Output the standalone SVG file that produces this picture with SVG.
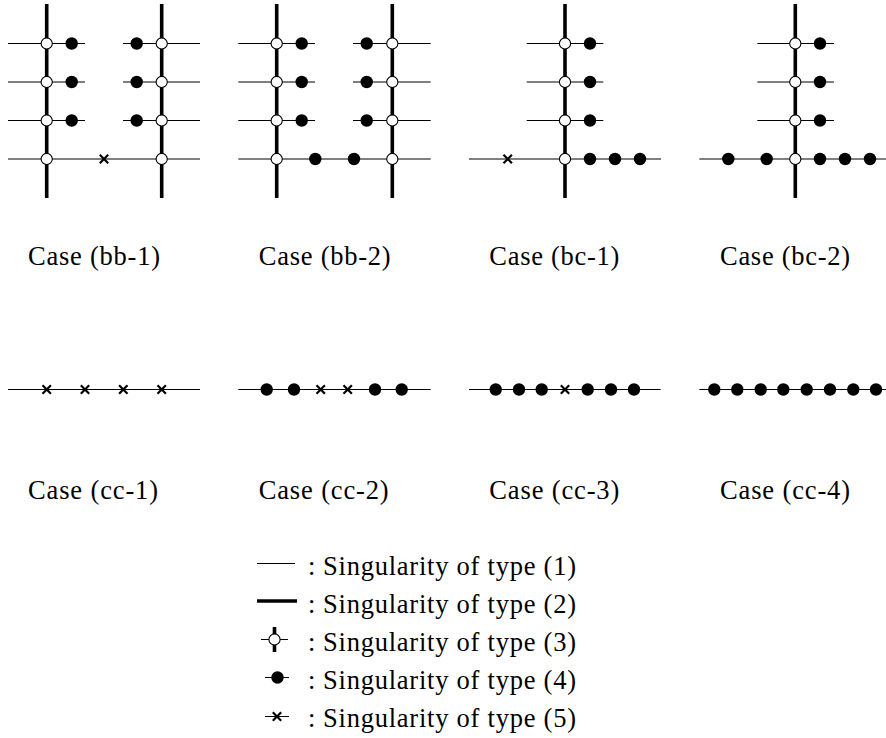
<svg xmlns="http://www.w3.org/2000/svg" xmlns:xlink="http://www.w3.org/1999/xlink" width="886" height="738" viewBox="0 0 886 738">
<style>
.thin{stroke:#000;stroke-width:1;fill:none}
.thick{stroke:#000;stroke-width:3.6;fill:none}
text{font-size:26.5px;fill:#000}
</style>
<defs>
<circle id="o" r="5.6" fill="#fff" stroke="#000" stroke-width="1.1"/>
<circle id="d" r="6.2" fill="#000"/>
<path id="x" d="M-4.2,-4.2L4.2,4.2M-4.2,4.2L4.2,-4.2" stroke="#000" stroke-width="2.2" fill="none"/>
</defs>

<g id="case-bb-1">
<g class="connectors">
<path class="thin" d="M8,43.5H85M8,82H85M8,120.5H85M123,43.5H200M123,82H200M123,120.5H200M8,159H200"/>
<path class="thick" d="M46.7,4V198M161.7,4V198"/>
</g>
<use xlink:href="#o" x="46.7" y="43.5"/><use xlink:href="#o" x="46.7" y="82"/><use xlink:href="#o" x="46.7" y="120.5"/><use xlink:href="#o" x="46.7" y="159"/>
<use xlink:href="#o" x="161.7" y="43.5"/><use xlink:href="#o" x="161.7" y="82"/><use xlink:href="#o" x="161.7" y="120.5"/><use xlink:href="#o" x="161.7" y="159"/>
<use xlink:href="#d" x="71.7" y="43.5"/><use xlink:href="#d" x="71.7" y="82"/><use xlink:href="#d" x="71.7" y="120.5"/>
<use xlink:href="#d" x="136.7" y="43.5"/><use xlink:href="#d" x="136.7" y="82"/><use xlink:href="#d" x="136.7" y="120.5"/>
<use xlink:href="#x" x="104" y="159"/>
<text font-family="'Liberation Serif', 'Times New Roman', serif" x="28" y="265" textLength="132" lengthAdjust="spacing">Case (bb-1)</text>
</g>

<g id="case-bb-2">
<g class="connectors">
<path class="thin" d="M238.3,43.5H315M238.3,82H315M238.3,120.5H315M353,43.5H430.7M353,82H430.7M353,120.5H430.7M238.3,159H430.7"/>
<path class="thick" d="M276.7,4V198M392.3,4V198"/>
</g>
<use xlink:href="#o" x="276.7" y="43.5"/><use xlink:href="#o" x="276.7" y="82"/><use xlink:href="#o" x="276.7" y="120.5"/><use xlink:href="#o" x="276.7" y="159"/>
<use xlink:href="#o" x="392.3" y="43.5"/><use xlink:href="#o" x="392.3" y="82"/><use xlink:href="#o" x="392.3" y="120.5"/><use xlink:href="#o" x="392.3" y="159"/>
<use xlink:href="#d" x="301.7" y="43.5"/><use xlink:href="#d" x="301.7" y="82"/><use xlink:href="#d" x="301.7" y="120.5"/>
<use xlink:href="#d" x="366.7" y="43.5"/><use xlink:href="#d" x="366.7" y="82"/><use xlink:href="#d" x="366.7" y="120.5"/>
<use xlink:href="#d" x="315.3" y="159"/><use xlink:href="#d" x="354" y="159"/>
<text font-family="'Liberation Serif', 'Times New Roman', serif" x="258.7" y="265" textLength="132" lengthAdjust="spacing">Case (bb-2)</text>
</g>

<g id="case-bc-1">
<g class="connectors">
<path class="thin" d="M526.7,43.5H603.3M526.7,82H603.3M526.7,120.5H603.3M469,159H661"/>
<path class="thick" d="M565,4V198"/>
</g>
<use xlink:href="#o" x="565" y="43.5"/><use xlink:href="#o" x="565" y="82"/><use xlink:href="#o" x="565" y="120.5"/><use xlink:href="#o" x="565" y="159"/>
<use xlink:href="#d" x="590" y="43.5"/><use xlink:href="#d" x="590" y="82"/><use xlink:href="#d" x="590" y="120.5"/>
<use xlink:href="#d" x="590" y="159"/><use xlink:href="#d" x="615" y="159"/><use xlink:href="#d" x="640" y="159"/>
<use xlink:href="#x" x="507.7" y="159"/>
<text font-family="'Liberation Serif', 'Times New Roman', serif" x="489.3" y="265" textLength="130" lengthAdjust="spacing">Case (bc-1)</text>
</g>

<g id="case-bc-2">
<g class="connectors">
<path class="thin" d="M757.3,43.5H834M757.3,82H834M757.3,120.5H834M699.3,159H886"/>
<path class="thick" d="M795.3,4V198"/>
</g>
<use xlink:href="#o" x="795.3" y="43.5"/><use xlink:href="#o" x="795.3" y="82"/><use xlink:href="#o" x="795.3" y="120.5"/><use xlink:href="#o" x="795.3" y="159"/>
<use xlink:href="#d" x="820" y="43.5"/><use xlink:href="#d" x="820" y="82"/><use xlink:href="#d" x="820" y="120.5"/>
<use xlink:href="#d" x="728.3" y="159"/><use xlink:href="#d" x="766.7" y="159"/><use xlink:href="#d" x="820" y="159"/><use xlink:href="#d" x="845" y="159"/><use xlink:href="#d" x="870" y="159"/>
<text font-family="'Liberation Serif', 'Times New Roman', serif" x="720" y="265" textLength="130" lengthAdjust="spacing">Case (bc-2)</text>
</g>

<g id="case-cc-1">
<path class="thin" d="M8,389.5H200"/>
<use xlink:href="#x" x="46.7" y="389.5"/><use xlink:href="#x" x="85" y="389.5"/><use xlink:href="#x" x="123.3" y="389.5"/><use xlink:href="#x" x="161.7" y="389.5"/>
<text font-family="'Liberation Serif', 'Times New Roman', serif" x="28" y="499" textLength="130" lengthAdjust="spacing">Case (cc-1)</text>
</g>

<g id="case-cc-2">
<path class="thin" d="M238.3,389.5H430.7"/>
<use xlink:href="#d" x="266.7" y="389.5"/><use xlink:href="#d" x="294" y="389.5"/>
<use xlink:href="#x" x="320.7" y="389.5"/><use xlink:href="#x" x="347.7" y="389.5"/>
<use xlink:href="#d" x="375" y="389.5"/><use xlink:href="#d" x="401.7" y="389.5"/>
<text font-family="'Liberation Serif', 'Times New Roman', serif" x="258.7" y="499" textLength="130" lengthAdjust="spacing">Case (cc-2)</text>
</g>

<g id="case-cc-3">
<path class="thin" d="M469,389.5H660.7"/>
<use xlink:href="#d" x="495.7" y="389.5"/><use xlink:href="#d" x="519" y="389.5"/><use xlink:href="#d" x="541.7" y="389.5"/>
<use xlink:href="#x" x="565" y="389.5"/>
<use xlink:href="#d" x="587.7" y="389.5"/><use xlink:href="#d" x="611" y="389.5"/><use xlink:href="#d" x="634" y="389.5"/>
<text font-family="'Liberation Serif', 'Times New Roman', serif" x="489.3" y="499" textLength="130" lengthAdjust="spacing">Case (cc-3)</text>
</g>

<g id="case-cc-4">
<path class="thin" d="M699.3,389.5H886"/>
<use xlink:href="#d" x="714.3" y="389.5"/><use xlink:href="#d" x="737.3" y="389.5"/><use xlink:href="#d" x="760.7" y="389.5"/><use xlink:href="#d" x="783.3" y="389.5"/>
<use xlink:href="#d" x="806.7" y="389.5"/><use xlink:href="#d" x="830" y="389.5"/><use xlink:href="#d" x="853.3" y="389.5"/><use xlink:href="#d" x="876" y="389.5"/>
<text font-family="'Liberation Serif', 'Times New Roman', serif" x="720" y="499" textLength="130" lengthAdjust="spacing">Case (cc-4)</text>
</g>

<g id="legend">
<g id="legend-1">
<path class="thin" d="M257,563.5H295"/>
<text font-family="'Liberation Serif', 'Times New Roman', serif" x="308" y="575">:</text>
<text font-family="'Liberation Serif', 'Times New Roman', serif" x="323" y="575" textLength="253" lengthAdjust="spacing">Singularity of type (1)</text>
</g>
<g id="legend-2">
<path class="thick" d="M257,601H297"/>
<text font-family="'Liberation Serif', 'Times New Roman', serif" x="308" y="613">:</text>
<text font-family="'Liberation Serif', 'Times New Roman', serif" x="323" y="613" textLength="253" lengthAdjust="spacing">Singularity of type (2)</text>
</g>
<g id="legend-3">
<path class="thin" d="M261,639.5H288"/>
<path class="thick" d="M274.5,627V652"/>
<use xlink:href="#o" x="274.5" y="639.5"/>
<text font-family="'Liberation Serif', 'Times New Roman', serif" x="308" y="651">:</text>
<text font-family="'Liberation Serif', 'Times New Roman', serif" x="323" y="651" textLength="253" lengthAdjust="spacing">Singularity of type (3)</text>
</g>
<g id="legend-4">
<path class="thin" d="M265,677.5H289"/>
<use xlink:href="#d" x="277.5" y="677.5"/>
<text font-family="'Liberation Serif', 'Times New Roman', serif" x="308" y="689">:</text>
<text font-family="'Liberation Serif', 'Times New Roman', serif" x="323" y="689" textLength="253" lengthAdjust="spacing">Singularity of type (4)</text>
</g>
<g id="legend-5">
<path class="thin" d="M265,716.5H289"/>
<use xlink:href="#x" x="277" y="716.5"/>
<text font-family="'Liberation Serif', 'Times New Roman', serif" x="308" y="727">:</text>
<text font-family="'Liberation Serif', 'Times New Roman', serif" x="323" y="727" textLength="253" lengthAdjust="spacing">Singularity of type (5)</text>
</g>
</g>
</svg>
